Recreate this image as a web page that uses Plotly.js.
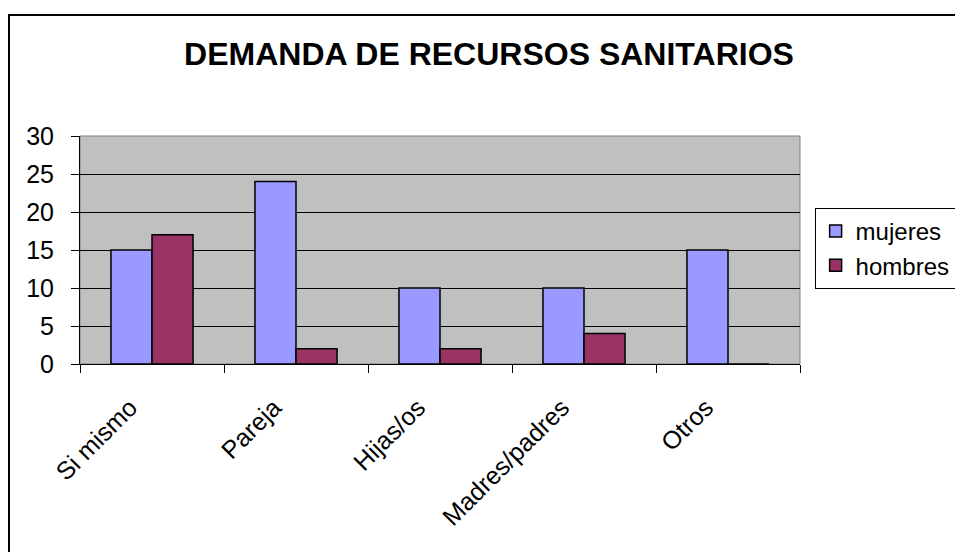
<!DOCTYPE html>
<html><head><meta charset="utf-8">
<script src="https://cdn.plot.ly/plotly-3.0.1.min.js"></script>
<style>
html,body{margin:0;padding:0;background:#fff;overflow:hidden;}
#chart{position:absolute;left:0;top:0;width:955px;height:552px;}
#frame{position:absolute;left:8px;top:14px;width:1000px;height:600px;border:2px solid #000;pointer-events:none;}
</style></head>
<body>
<div id="chart"></div>
<div id="frame"></div>
<script>
const categories = ["Si mismo","Pareja","Hijas/os","Madres/padres","Otros"];
const mujeres = [15,24,10,10,15];
const hombres = [17,2,2,4,0];
const yTicks = [0,5,10,15,20,25,30];

const font = "Arial, 'Liberation Sans', sans-serif";
const traces = [
  {type:'bar', name:'mujeres', x:categories, y:mujeres,
   marker:{color:'#9999ff', line:{color:'#000', width:1.5}}},
  {type:'bar', name:'hombres', x:categories, y:hombres,
   marker:{color:'#993366', line:{color:'#000', width:1.5}}}
];
const layout = {
  width:955, height:552,
  margin:{l:80, r:155, t:136, b:188, pad:0},
  paper_bgcolor:'#fff', plot_bgcolor:'#c0c0c0',
  font:{family:font, color:'#000', size:25},
  title:{text:'<b>DEMANDA DE RECURSOS SANITARIOS</b>', font:{family:font, size:32, color:'#000'},
         x:0.512, xanchor:'center', y:0.903, yanchor:'middle'},
  barmode:'group', bargap:0.43, bargroupgap:0,
  showlegend:true,
  legend:{xref:'container', yref:'container', x:0.853, xanchor:'left', y:0.6232, yanchor:'top', bgcolor:'#fff',
          bordercolor:'#000', borderwidth:1, font:{family:font, size:24}, tracegroupgap:0},
  xaxis:{type:'category', tickangle:-45, tickson:'boundaries', ticks:'outside', ticklen:8,
         tickcolor:'#000', showline:true, linecolor:'#000', linewidth:1, showgrid:false,
         tickfont:{family:font, size:25}, ticklabelstandoff:18, ticklabelshift:-22, zeroline:false},
  yaxis:{range:[0,30], tickvals:yTicks, ticks:'outside', ticklen:8, tickcolor:'#000',
         showline:true, linecolor:'#000', linewidth:1, showgrid:true, gridcolor:'#000', gridwidth:1,
         zeroline:false, tickfont:{family:font, size:25}, ticklabelstandoff:12},
  shapes:[{type:'rect', xref:'paper', yref:'paper', x0:0, x1:1, y0:0, y1:1,
           line:{color:'#808080', width:1}, layer:'below'}]
};
Plotly.newPlot('chart', traces, layout, {staticPlot:true, displayModeBar:false});
</script>
</body></html>
